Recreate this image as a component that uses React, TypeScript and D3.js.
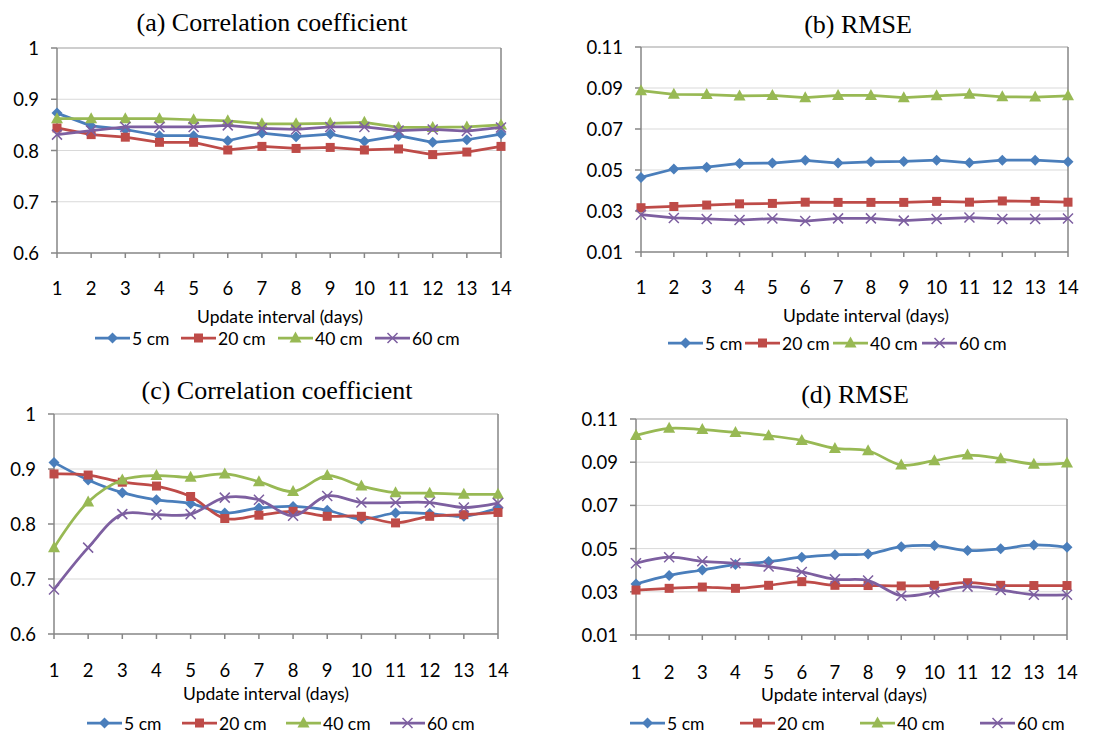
import React from 'react';
import * as d3 from 'd3';

const days = [1, 2, 3, 4, 5, 6, 7, 8, 9, 10, 11, 12, 13, 14];
const seriesNames = ['5 cm', '20 cm', '40 cm', '60 cm'];
const seriesColors = ['#4A7EBB', '#BE4B48', '#98B954', '#7D5FA0'];
const seriesShapes = ['diamond', 'square', 'triangle', 'cross'];

const corrTicks = [0.6, 0.7, 0.8, 0.9, 1];
const rmseTicks = [0.01, 0.03, 0.05, 0.07, 0.09, 0.11];

// (a) correlation coefficient
const corrA5 = [0.873, 0.848, 0.841, 0.829, 0.829, 0.819, 0.834, 0.827, 0.832, 0.818, 0.829, 0.816, 0.821, 0.832];
const corrA20 = [0.844, 0.831, 0.826, 0.816, 0.816, 0.801, 0.808, 0.804, 0.806, 0.801, 0.803, 0.792, 0.797, 0.808];
const corrA40 = [0.862, 0.862, 0.862, 0.862, 0.86, 0.858, 0.852, 0.852, 0.853, 0.855, 0.845, 0.845, 0.846, 0.85];
const corrA60 = [0.831, 0.839, 0.846, 0.846, 0.846, 0.849, 0.843, 0.841, 0.846, 0.846, 0.839, 0.841, 0.838, 0.845];

// (b) RMSE
const rmseB5 = [0.0464, 0.0505, 0.0514, 0.0532, 0.0534, 0.0547, 0.0534, 0.054, 0.0542, 0.0548, 0.0535, 0.0548, 0.0548, 0.054];
const rmseB20 = [0.0316, 0.0322, 0.0329, 0.0335, 0.0337, 0.0343, 0.0342, 0.0342, 0.0342, 0.0347, 0.0343, 0.0349, 0.0347, 0.0343];
const rmseB40 = [0.0887, 0.0869, 0.0868, 0.0861, 0.0864, 0.0853, 0.0864, 0.0864, 0.0853, 0.0862, 0.0869, 0.0857, 0.0856, 0.0862];
const rmseB60 = [0.0282, 0.0266, 0.0261, 0.0256, 0.0263, 0.0251, 0.0264, 0.0264, 0.0253, 0.0261, 0.0268, 0.0261, 0.0261, 0.0263];

// (c) correlation coefficient
const corrC5 = [0.912, 0.88, 0.857, 0.844, 0.837, 0.82, 0.829, 0.832, 0.825, 0.809, 0.82, 0.819, 0.814, 0.829];
const corrC20 = [0.891, 0.889, 0.876, 0.869, 0.85, 0.81, 0.816, 0.823, 0.814, 0.814, 0.802, 0.814, 0.817, 0.821];
const corrC40 = [0.757, 0.84, 0.88, 0.888, 0.885, 0.891, 0.877, 0.859, 0.888, 0.869, 0.857, 0.856, 0.854, 0.854];
const corrC60 = [0.681, 0.757, 0.818, 0.817, 0.818, 0.848, 0.844, 0.815, 0.851, 0.839, 0.839, 0.839, 0.83, 0.838];

// (d) RMSE
const rmseD5 = [0.0336, 0.0376, 0.0401, 0.0426, 0.044, 0.046, 0.0471, 0.0475, 0.0509, 0.0514, 0.0491, 0.0499, 0.0517, 0.0506];
const rmseD20 = [0.0308, 0.0316, 0.0322, 0.0316, 0.033, 0.0347, 0.033, 0.0329, 0.0327, 0.033, 0.0342, 0.033, 0.0329, 0.0329];
const rmseD40 = [0.1024, 0.1057, 0.1051, 0.1038, 0.1023, 0.1001, 0.0964, 0.0953, 0.0887, 0.0907, 0.0933, 0.0916, 0.0891, 0.0896];
const rmseD60 = [0.0432, 0.046, 0.0441, 0.0432, 0.0417, 0.0392, 0.0358, 0.0352, 0.0282, 0.0298, 0.0324, 0.0308, 0.0286, 0.0286];

const sansFont = 'Lato, "Open Sans", sans-serif';
const serifFont = '"Liberation Serif", "DejaVu Serif", serif';

const panels = [
  {
    title: '(a) Correlation coefficient', series: [corrA5, corrA20, corrA40, corrA60], ticks: corrTicks,
    smooth: false, left: 57, right: 501, top: 48, bottom: 253, titleX: 272, titleY: 25,
    tickY: 288, axisTitleX: 280, axisTitleY: 316, legendY: 338, legendX: [95, 181, 278, 375],
  },
  {
    title: '(b) RMSE', series: [rmseB5, rmseB20, rmseB40, rmseB60], ticks: rmseTicks,
    smooth: false, left: 641, right: 1068, top: 47, bottom: 252, titleX: 858, titleY: 27,
    tickY: 287, axisTitleX: 866, axisTitleY: 315, legendY: 343, legendX: [668, 745, 833, 922],
  },
  {
    title: '(c) Correlation coefficient', series: [corrC5, corrC20, corrC40, corrC60], ticks: corrTicks,
    smooth: true, left: 54, right: 498, top: 414, bottom: 634, titleX: 277, titleY: 393,
    tickY: 670, axisTitleX: 266, axisTitleY: 693, legendY: 723, legendX: [87, 182, 286, 390],
  },
  {
    title: '(d) RMSE', series: [rmseD5, rmseD20, rmseD40, rmseD60], ticks: rmseTicks,
    smooth: true, left: 636, right: 1067, top: 419, bottom: 635, titleX: 855, titleY: 397,
    tickY: 672, axisTitleX: 844, axisTitleY: 694, legendY: 723, legendX: [630, 740, 860, 980],
  },
];

const Marker = ({ shape, x, y, color }) => {
  if (shape === 'diamond') {
    return <path d={`M${x},${y - 5.5}L${x + 5.5},${y}L${x},${y + 5.5}L${x - 5.5},${y}Z`} fill={color} />;
  }
  if (shape === 'square') {
    return <rect x={x - 4.5} y={y - 4.5} width={9} height={9} fill={color} />;
  }
  if (shape === 'triangle') {
    return <path d={`M${x},${y - 6.5}L${x + 6},${y + 4.5}L${x - 6},${y + 4.5}Z`} fill={color} />;
  }
  return (
    <path
      d={`M${x - 5},${y - 5}L${x + 5},${y + 5}M${x - 5},${y + 5}L${x + 5},${y - 5}`}
      stroke={color}
      strokeWidth={1.5}
    />
  );
};

const Panel = ({ p }) => {
  const x = d3.scaleLinear().domain([1, 14]).range([p.left, p.right]);
  const y = d3.scaleLinear().domain([p.ticks[0], p.ticks[p.ticks.length - 1]]).range([p.bottom, p.top]);
  const line = d3
    .line()
    .x((d, i) => x(days[i]))
    .y((d) => y(d))
    .curve(p.smooth ? d3.curveCatmullRom.alpha(0.5) : d3.curveLinear);
  const fmt = (v) => String(+v.toFixed(2));
  const axisColor = '#868686';

  return (
    <g>
      <text x={p.titleX} y={p.titleY} textAnchor="middle" dominantBaseline="middle"
        fontFamily={serifFont} fontSize={26} fill="#000">{p.title}</text>
      {p.ticks.slice(1).map((t) => (
        <line key={t} x1={p.left} x2={p.right} y1={y(t)} y2={y(t)} stroke="#d9d9d9" strokeWidth={1} />
      ))}
      <line x1={p.left} x2={p.right} y1={p.top} y2={p.top} stroke="#b0b0b0" strokeWidth={1} />
      <line x1={p.right} x2={p.right} y1={p.top} y2={p.bottom} stroke={axisColor} strokeWidth={1.5} />
      <line x1={p.left} x2={p.left} y1={p.top} y2={p.bottom} stroke={axisColor} strokeWidth={1.5} />
      <line x1={p.left} x2={p.right} y1={p.bottom} y2={p.bottom} stroke={axisColor} strokeWidth={1.5} />
      {p.ticks.map((t) => (
        <g key={t}>
          <line x1={p.left - 6} x2={p.left} y1={y(t)} y2={y(t)} stroke={axisColor} strokeWidth={1.5} />
          <text x={p.left - 18} y={y(t)} textAnchor="end" dominantBaseline="central"
            fontFamily={sansFont} fontSize={18.5} fill="#000">{fmt(t)}</text>
        </g>
      ))}
      {days.map((d) => (
        <g key={d}>
          <line x1={x(d)} x2={x(d)} y1={p.bottom} y2={p.bottom + 5} stroke={axisColor} strokeWidth={1.5} />
          <text x={x(d)} y={p.tickY} textAnchor="middle" dominantBaseline="central"
            fontFamily={sansFont} fontSize={18.5} fill="#000">{d}</text>
        </g>
      ))}
      <text x={p.axisTitleX} y={p.axisTitleY} textAnchor="middle" dominantBaseline="central"
        fontFamily={sansFont} fontSize={17.5} fill="#000">Update interval (days)</text>
      {p.series.map((s, si) => (
        <g key={si}>
          <path d={line(s)} fill="none" stroke={seriesColors[si]} strokeWidth={2.75} strokeLinejoin="round" />
          {s.map((v, i) => (
            <Marker key={i} shape={seriesShapes[si]} x={x(days[i])} y={y(v)} color={seriesColors[si]} />
          ))}
        </g>
      ))}
      {seriesNames.map((name, si) => {
        const lx = p.legendX[si];
        return (
          <g key={name}>
            <line x1={lx} x2={lx + 35} y1={p.legendY} y2={p.legendY} stroke={seriesColors[si]} strokeWidth={2.75} />
            <Marker shape={seriesShapes[si]} x={lx + 17.5} y={p.legendY} color={seriesColors[si]} />
            <text x={lx + 37} y={p.legendY} dominantBaseline="central"
              fontFamily={sansFont} fontSize={17.5} fill="#000">{name}</text>
          </g>
        );
      })}
    </g>
  );
};

const App = () => (
  <svg width={1120} height={732} style={{ position: 'absolute', left: 0, top: 0, background: '#fff' }}>
    {panels.map((p) => (
      <Panel key={p.title} p={p} />
    ))}
  </svg>
);

export default App;
